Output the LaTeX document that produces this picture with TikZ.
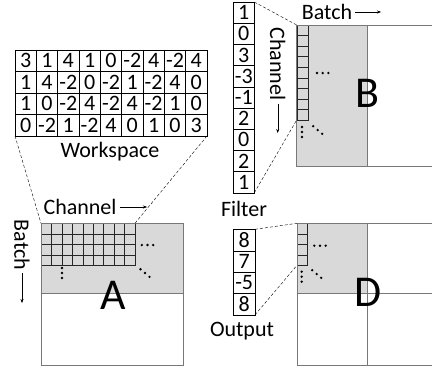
\documentclass[tikz,border=0pt]{standalone}
\usepackage{fontspec}
\setmainfont{Carlito}
\usetikzlibrary{arrows.meta}

\definecolor{matfill}{RGB}{217,217,217}
\definecolor{matline}{RGB}{120,120,120}

\tikzset{
	cell/.style={draw, inner sep=0pt, outer sep=0pt, minimum width=21.33pt, minimum height=21.4pt, font=\fontsize{22}{22}\selectfont},
	small/.style={draw=black!85, inner sep=0pt, outer sep=0pt, minimum width=10.5pt, minimum height=10.5pt},
	label/.style={inner sep=0pt, font=\fontsize{22}{22}\selectfont},
	letter/.style={inner sep=0pt, font=\fontsize{44}{44}\selectfont},
	guide/.style={densely dashed, thin},
	pointer/.style={-{Stealth[length=4pt,width=3pt]}, thin, shorten <=3pt},
	mat/.style={draw=matline, thick}
}

\begin{document}
\begin{tikzpicture}[x=1pt, y=-1pt]

		\useasboundingbox (0,0) rectangle (432,370);

		% workspace table
		\foreach \row [count=\r] in {{3,1,4,1,0,-2,4,-2,4},{1,4,-2,0,-2,1,-2,4,0},{1,0,-2,4,-2,4,-2,1,0},{0,-2,1,-2,4,0,1,0,3}} {
			\foreach \v [count=\c] in \row {
				\node[cell, minimum height=21.5pt] (w-\r-\c) at ({15+21.33*(\c-0.5)}, {50+21.5*(\r-0.5)}) {\v};
			}
		}
		\node[label] (ws) at (110,152) {Workspace};

		% filter column
		\foreach \v [count=\r] in {1,0,3,-3,-1,2,0,2,1} {
			\node[cell, minimum width=21pt, minimum height=21.2pt] (f-\r) at (243.8, {2+21.2*(\r-0.5)}) {\v};
		}
		\node[label] (fl) at (244,209) {Filter};

		% output column
		\foreach \v [count=\r] in {8,7,-5,8} {
			\node[cell, minimum width=21.6pt] (o-\r) at (244.2, {229.3+21.4*(\r-0.5)}) {\v};
		}
		\node[label] (ol) at (242,331) {Output};

		% matrix A
		\fill[matfill] (41,223.3) rectangle (183,293.3);
		\foreach \r in {1,...,4} {
			\foreach \c in {1,...,9} {
				\node[small, minimum width=10.44pt] (a-\r-\c) at ({41+10.44*(\c-0.5)}, {223.3+10.5*(\r-0.5)}) {};
			}
		}
		\draw[mat] (41,223.3) rectangle (183,365);
		\draw[mat] (41,293.3) -- (183,293.3);
		\node[letter] (A) at (113,295) {A};
		\foreach \i in {-1,0,1} {
			\fill (147.5+5.7*\i,245) circle (1.3);
			\fill (62,273+5*\i) circle (1.3);
			\fill (145+4.5*\i,273+3.8*\i) circle (1.3);
		}

		% matrix B
		\fill[matfill] (296.7,25) rectangle (367.7,166.7);
		\foreach \r in {1,...,9} {
			\node[small, minimum width=11pt, minimum height=10.55pt] (b-\r) at (302.2, {25+10.55*(\r-0.5)}) {};
		}
		\draw[mat] (432,25) -- (296.7,25) -- (296.7,166.7) -- (432,166.7);
		\draw[mat] (367.7,25) -- (367.7,166.7);
		\node[letter] (B) at (367.7,93) {B};
		\foreach \i in {-1,0,1} {
			\fill (322.7+5.7*\i,73) circle (1.3);
			\fill (302,132+5*\i) circle (1.3);
			\fill (317.7+4.5*\i,130+3.8*\i) circle (1.3);
		}

		% matrix D
		\fill[matfill] (297,223.3) rectangle (367.7,293.3);
		\foreach \r in {1,...,4} {
			\node[small, minimum width=10pt] (d-\r) at (302, {223.3+10.5*(\r-0.5)}) {};
		}
		\draw[mat] (432,223.3) -- (297,223.3) -- (297,365) -- (432,365);
		\draw[mat] (367.7,223.3) -- (367.7,365);
		\draw[mat] (297,293.3) -- (432,293.3);
		\node[letter] (D) at (367.7,292) {D};
		\foreach \i in {-1,0,1} {
			\fill (320+5.7*\i,245.7) circle (1.3);
			\fill (301.7,276.7+5*\i) circle (1.3);
			\fill (316.7+4.5*\i,274+3.8*\i) circle (1.3);
		}

		% axis labels
		\node[label] (cha) at (80,207) {Channel};
		\coordinate (chaend) at (147,207);
		\draw[pointer] (cha) -- (chaend);
		\node[label, rotate=-90] (baa) at (22,245) {Batch};
		\coordinate (baaend) at (22,303);
		\draw[pointer] (baa) -- (baaend);
		\node[label] (bab) at (327,12) {Batch};
		\coordinate (babend) at (381,12);
		\draw[pointer] (bab) -- (babend);
		\node[label, rotate=-90] (chb) at (277.7,64) {Channel};
		\coordinate (chbend) at (277.7,133);
		\draw[pointer] (chb) -- (chbend);

		% zoom guides
		\draw[guide] (w-4-1.south west) -- (a-1-1.north west);
		\draw[guide] (w-4-9.south east) -- (a-1-9.north east);
		\draw[guide] (f-1.north east) -- (b-1.north west);
		\draw[guide] (f-9.south east) -- (b-9.south west);
		\draw[guide] (o-1.north east) -- (d-1.north west);
		\draw[guide] (o-4.south east) -- (d-4.south west);

	\end{tikzpicture}
\end{document}
